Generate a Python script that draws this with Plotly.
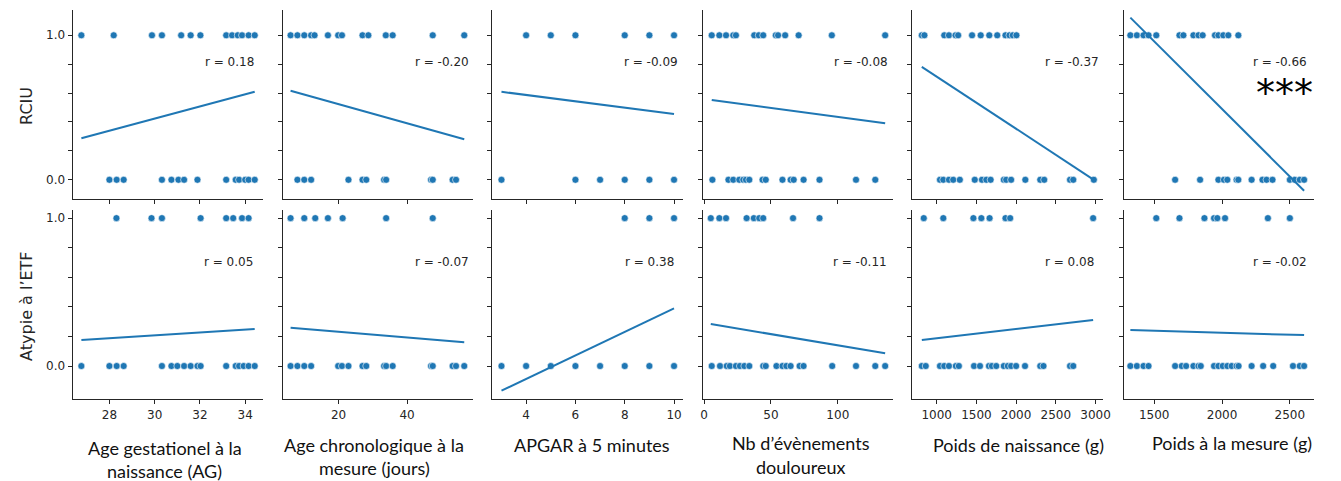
import plotly.graph_objects as go

W, H = 1341, 481
OFF = 8  # page body margin that the browser adds round the plot

# ---- data ----
x_titles = [["Age gestationel à la", "naissance (AG)"], ["Age chronologique à la", "mesure (jours)"],
            ["APGAR à 5 minutes"], ["Nb d’évènements", "douloureux"],
            ["Poids de naissance (g)"], ["Poids à la mesure (g)"]]
row_titles = ["RCIU", "Atypie à l’ETF"]
r_rciu = ["0.18", "-0.20", "-0.09", "-0.08", "-0.37", "-0.66"]
r_etf = ["0.05", "-0.07", "0.38", "-0.11", "0.08", "-0.02"]

# Age gestationnel
ag_rciu_1 = [26.76, 28.19, 29.88, 30.32, 31.17, 31.59, 32.02, 33.16, 33.42, 33.67, 33.86, 34.15, 34.42]
ag_rciu_0 = [28.0, 28.32, 28.63, 30.32, 30.74, 31.05, 31.30, 31.89, 33.16, 33.58, 33.73, 34.0, 34.15, 34.42]
ag_etf_1 = [28.31, 29.86, 30.32, 32.03, 33.16, 33.47, 33.86, 34.15]
ag_etf_0 = [26.76, 28.0, 28.32, 28.63, 30.32, 30.74, 31.0, 31.30, 31.59, 31.89, 32.03, 33.16, 33.58,
            33.73, 33.93, 34.15, 34.42]

# Age chronologique
chrono_rciu_1 = [6.0, 8.0, 10.0, 12.0, 13.0, 16.9, 19.9, 21.0, 27.0, 28.7, 33.8, 35.8, 47.5, 56.7]
chrono_rciu_0 = [8.0, 10.0, 12.0, 22.9, 27.0, 28.1, 33.3, 33.9, 47.0, 47.5, 53.3, 54.3]
chrono_etf_1 = [6.0, 10.0, 13.2, 16.9, 21.2, 33.9, 47.5]
chrono_etf_0 = [6.0, 8.0, 10.0, 12.0, 19.9, 21.0, 22.9, 27.0, 28.1, 33.3, 33.9, 35.8, 47.0, 47.5,
                53.3, 54.3, 56.7]

# APGAR
apgar_rciu_1 = [4, 5, 6, 8, 9, 10]
apgar_rciu_0 = [3, 6, 7, 8, 9, 10]
apgar_etf_1 = [8, 9, 10]
apgar_etf_0 = [3, 4, 5, 6, 7, 8, 9, 10]

# Nb evenements douloureux
douleur_rciu_1 = [5.7, 11.4, 16.4, 21.8, 23.8, 37.5, 40.9, 44.2, 53.6, 55.3, 60.6, 70.7, 95.5, 135.4]
douleur_rciu_0 = [6.2, 18.2, 21.8, 26.3, 29.3, 31.3, 33.8, 43.7, 46.1, 58.6, 64.7, 67.0, 74.4, 86.3,
                  113.6, 128.0]
douleur_etf_1 = [5.0, 11.4, 16.4, 31.8, 37.2, 41.2, 44.2, 66.5, 86.3]
douleur_etf_0 = [5.7, 11.9, 16.9, 19.3, 23.8, 26.8, 30.1, 33.8, 44.2, 46.1, 54.1, 58.6, 61.5, 64.7,
                 71.4, 74.4, 95.8, 113.6, 128.0, 135.4]

# Poids de naissance
pn_rciu_1 = [812, 845, 1095, 1154, 1237, 1270, 1445, 1554, 1662, 1762, 1866, 1916, 1958, 2004]
pn_rciu_0 = [1041, 1083, 1154, 1208, 1291, 1479, 1570, 1625, 1679, 1845, 1875, 1937, 2116, 2304,
             2354, 2679, 2720, 2979]
pn_etf_1 = [837, 1083, 1462, 1562, 1666, 1866, 1925, 2970]
pn_etf_0 = [812, 862, 1041, 1095, 1154, 1241, 1279, 1470, 1545, 1658, 1695, 1750, 1845, 1895, 1937,
            2000, 2112, 2304, 2345, 2679, 2720]

# Poids a la mesure
pm_rciu_1 = [1324, 1372, 1421, 1458, 1515, 1686, 1715, 1789, 1826, 1857, 1948, 1973, 2009, 2046, 2120]
pm_rciu_0 = [1654, 1838, 1973, 2014, 2039, 2107, 2120, 2218, 2298, 2328, 2372, 2500, 2536, 2573, 2605]
pm_etf_1 = [1515, 1686, 1870, 1941, 1965, 2022, 2338, 2500]
pm_etf_0 = [1324, 1372, 1421, 1458, 1654, 1703, 1735, 1789, 1826, 1843, 1941, 1973, 2005, 2039,
            2071, 2107, 2122, 2218, 2303, 2377, 2523, 2573, 2605]

# regression line values at the left / right end of each panel
fit_rciu_start = [0.287, 0.616, 0.609, 0.552, 0.782, 1.122]
fit_rciu_end = [0.609, 0.280, 0.455, 0.391, 0.0, -0.076]
fit_etf_start = [0.176, 0.259, -0.167, 0.284, 0.176, 0.243]
fit_etf_end = [0.250, 0.160, 0.390, 0.086, 0.311, 0.209]

rows = [
    dict(pos=[ag_rciu_1, chrono_rciu_1, apgar_rciu_1, douleur_rciu_1, pn_rciu_1, pm_rciu_1],
         neg=[ag_rciu_0, chrono_rciu_0, apgar_rciu_0, douleur_rciu_0, pn_rciu_0, pm_rciu_0],
         f0=fit_rciu_start, f1=fit_rciu_end, r=r_rciu),
    dict(pos=[ag_etf_1, chrono_etf_1, apgar_etf_1, douleur_etf_1, pn_etf_1, pm_etf_1],
         neg=[ag_etf_0, chrono_etf_0, apgar_etf_0, douleur_etf_0, pn_etf_0, pm_etf_0],
         f0=fit_etf_start, f1=fit_etf_end, r=r_etf),
]

# ---- layout (pixel geometry of the page) ----
col_left = [71, 283, 494, 706, 917, 1130]
col_w = 192
row_top = [10, 210]
row_h = 189.3
x_ranges = [[26.37, 34.79], [3.77, 59.4], [2.63, 10.36], [-1.0, 141.5], [691, 3091], [1274, 2679]]
x_dtick = [2, 20, 2, 50, 500, 500]
y_ranges = [[-0.135, 1.175], [-0.225, 1.055]]
r_right = [[256, 472, 683, 895, 1107, 1317], [255, 472, 679, 894, 1102, 1317]]
r_y = [62, 262]
title_cx = [164, 375, 594, 805, 1024, 1239]
title_lines_y = [[448, 471], [445, 468], [445], [443, 467], [445], [443]]

FW, FH = W - OFF, H - OFF


def px(p):
    return (p - OFF) / FW


def py(p):
    return 1 - (p - OFF) / FH


BLUE = "#1f77b4"
AX = "#262626"
TICKFONT = dict(family="DejaVu Sans", size=12, color=AX)

fig = go.Figure()
annotations = []
layout = dict(width=FW, height=FH, margin=dict(l=0, r=0, t=0, b=0),
              plot_bgcolor="white", paper_bgcolor="white", showlegend=False)

for ri, row in enumerate(rows):
    for ci in range(6):
        k = ri * 6 + ci + 1
        xa = "x" if k == 1 else f"x{k}"
        ya = "y" if k == 1 else f"y{k}"
        xs = row["pos"][ci] + row["neg"][ci]
        ys = [1.0] * len(row["pos"][ci]) + [0.0] * len(row["neg"][ci])
        fig.add_trace(go.Scatter(
            x=xs, y=ys, mode="markers", xaxis=xa, yaxis=ya,
            marker=dict(size=7, color=BLUE, line=dict(color="white", width=0.6)),
            hoverinfo="x+y"))
        fig.add_trace(go.Scatter(
            x=[min(xs), max(xs)], y=[row["f0"][ci], row["f1"][ci]],
            mode="lines", xaxis=xa, yaxis=ya,
            line=dict(color=BLUE, width=2), hoverinfo="skip"))

        layout["xaxis" if k == 1 else f"xaxis{k}"] = dict(
            domain=[px(col_left[ci]), px(col_left[ci] + col_w)], anchor=ya,
            range=x_ranges[ci], dtick=x_dtick[ci],
            tick0=0, showgrid=False, zeroline=False, showline=True, linecolor=AX,
            linewidth=1, ticks="outside", ticklen=4, tickwidth=1, tickcolor=AX,
            showticklabels=(ri == 1), tickfont=TICKFONT)
        layout["yaxis" if k == 1 else f"yaxis{k}"] = dict(
            domain=[py(row_top[ri] + row_h), py(row_top[ri])], anchor=xa, range=y_ranges[ri],
            tickvals=[0, 0.2, 0.4, 0.6, 0.8, 1.0],
            ticktext=["0.0", "", "", "", "", "1.0"] if ci == 0 else [""] * 6,
            showgrid=False, zeroline=False, showline=True, linecolor=AX,
            linewidth=1, ticks="outside", ticklen=4, tickwidth=1, tickcolor=AX,
            tickfont=TICKFONT)

        annotations.append(dict(
            text=f"r = {row['r'][ci]}", xref="paper", yref="paper",
            x=px(r_right[ri][ci]), y=py(r_y[ri]), xanchor="right", yanchor="middle",
            showarrow=False, font=dict(family="DejaVu Sans", size=12, color=AX)))

# significance marker
annotations.append(dict(text="***", xref="paper", yref="paper", x=px(1292), y=py(93),
                        xanchor="center", yanchor="middle", showarrow=False,
                        font=dict(family="DejaVu Sans", size=38, color="black")))

# row titles
for ri, t in enumerate(row_titles):
    annotations.append(dict(text=t, xref="paper", yref="paper", x=px(24),
                            y=py([106, 306][ri]), textangle=-90,
                            xanchor="center", yanchor="middle", showarrow=False,
                            font=dict(family="DejaVu Sans", size=16, color=AX)))

# column titles, one annotation per line
for ci, lines in enumerate(x_titles):
    for t, ly in zip(lines, title_lines_y[ci]):
        annotations.append(dict(text=t, xref="paper", yref="paper", x=px(title_cx[ci]),
                                y=py(ly), xanchor="center", yanchor="middle",
                                showarrow=False,
                                font=dict(family="Lato", size=18, color="#111")))

layout["annotations"] = annotations
fig.update_layout(**layout)
fig.write_html("out.html")
